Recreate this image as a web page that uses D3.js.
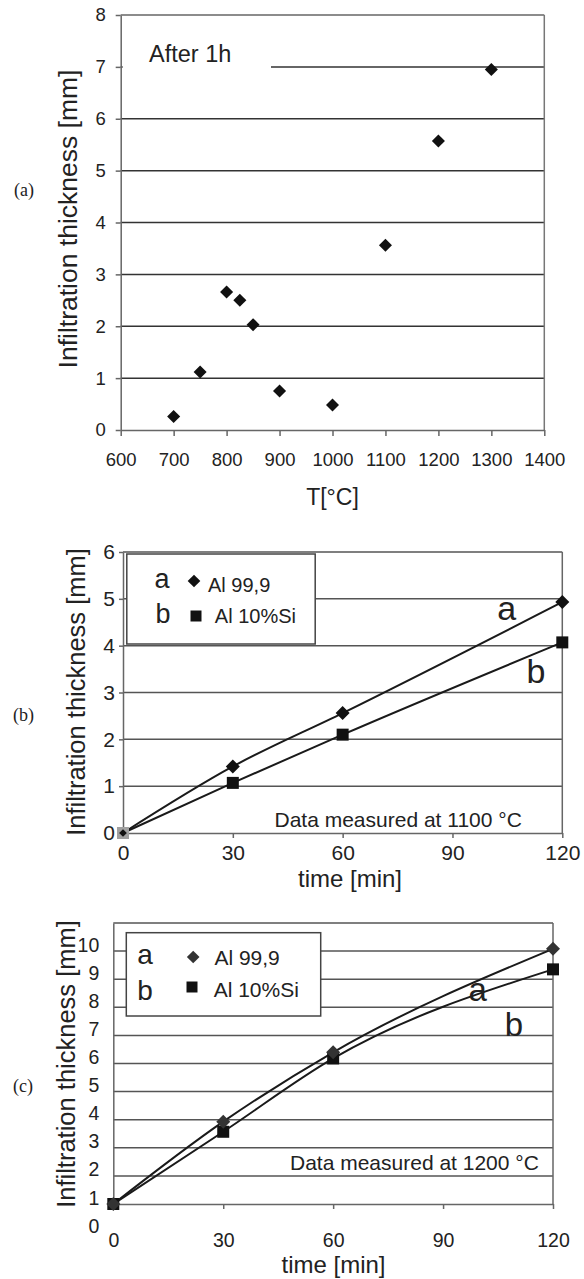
<!DOCTYPE html>
<html><head><meta charset="utf-8">
<script src="https://cdn.jsdelivr.net/npm/d3@7"></script>
<style>body{margin:0;background:#fff} svg{display:block}</style>
</head><body>
<svg id="chart" width="584" height="1279"></svg>
<script>
// ---------- data ----------
// Panel (a): infiltration thickness after 1 h vs temperature
const tempC      = [700, 750, 800, 825, 850, 900, 1000, 1100, 1200, 1300];
const thickAfter1h = [0.26, 1.12, 2.66, 2.5, 2.03, 0.75, 0.48, 3.56, 5.57, 6.95];
const tempTicks  = [600, 700, 800, 900, 1000, 1100, 1200, 1300, 1400];
const thickTicksA = [0, 1, 2, 3, 4, 5, 6, 7, 8];

// Panels (b) and (c): thickness vs time
const timeMin    = [0, 30, 60, 120];
const al999_1100 = [0, 1.42, 2.56, 4.93];
const alSi_1100  = [0, 1.07, 2.1, 4.07];
const al999_1200 = [1, 3.93, 6.4, 10.08];
const alSi_1200  = [1, 3.57, 6.18, 9.35];
const timeTicks  = [0, 30, 60, 90, 120];
const thickTicksB = [0, 1, 2, 3, 4, 5, 6];
const thickTicksC = [0, 1, 2, 3, 4, 5, 6, 7, 8, 9, 10];
const seriesKeys  = ["a", "b"];
const legendNames = ["Al 99,9", "Al 10%Si"];

// ---------- helpers ----------
const svg = d3.select("#chart");
const SANS = "'Liberation Sans', Arial, sans-serif";
const SERIF = "'Liberation Serif', 'Times New Roman', serif";
const diamond = s => d3.symbol(d3.symbolSquare, s)();
const square = s => d3.symbol(d3.symbolSquare, s)();

function styleAxis(g, fs, col) {
  g.select(".domain").attr("stroke", col).attr("stroke-width", 1.5);
  g.selectAll(".tick line").attr("stroke", col).attr("stroke-width", 1.5);
  g.selectAll("text").attr("font-family", SANS).attr("font-size", fs).attr("fill", "#222");
}
function yTitle(x, y, fs) {
  svg.append("text").attr("transform", `translate(${x},${y}) rotate(-90)`)
    .attr("text-anchor", "middle").attr("font-family", SANS).attr("font-size", fs)
    .attr("fill", "#222").text("Infiltration thickness [mm]");
}
function panelLabel(x, y, t) {
  svg.append("text").attr("x", x).attr("y", y).attr("font-family", SERIF)
    .attr("font-size", 18).attr("fill", "#222").text(t);
}

// ---------- panel (a) ----------
{
  const x = d3.scaleLinear([600, 1400], [120.7, 544.3]);
  const y = d3.scaleLinear([0, 8], [430, 15]);
  const g = svg.append("g");
  g.selectAll("line.grid").data(thickTicksA.filter(v => v > 0)).join("line")
    .attr("x1", x(600)).attr("x2", x(1400)).attr("y1", d => y(d)).attr("y2", d => y(d))
    .attr("stroke", d => d === 8 ? "#666" : "#333").attr("stroke-width", 1.5);
  g.append("line").attr("x1", x(1400)).attr("x2", x(1400)).attr("y1", y(0)).attr("y2", y(8))
    .attr("stroke", "#777").attr("stroke-width", 1.5);
  // text box of "After 1h" hiding part of the 7 gridline
  g.append("rect").attr("x", x(600) + 2).attr("y", 30).attr("width", 271 - x(600) - 2).attr("height", 45).attr("fill", "#fff");
  g.append("text").attr("x", 149).attr("y", 62).attr("font-family", SANS).attr("font-size", 23.5)
    .attr("fill", "#222").text("After 1h");
  const ax = g.append("g").attr("transform", `translate(0,${y(0)})`)
    .call(d3.axisBottom(x).tickValues(tempTicks).tickSize(6).tickSizeOuter(0).tickPadding(17).tickFormat(d3.format("d")));
  styleAxis(ax, 18.5, "#666");
  const ay = g.append("g").attr("transform", `translate(${x(600)},0)`)
    .call(d3.axisLeft(y).tickValues(thickTicksA).tickSize(5).tickSizeOuter(0).tickPadding(10).tickFormat(d3.format("d")));
  styleAxis(ay, 18.5, "#666");
  g.selectAll("path.pt").data(tempC).join("path")
    .attr("d", diamond(85))
    .attr("transform", (d, i) => `translate(${x(d)},${y(thickAfter1h[i])}) rotate(45)`)
    .attr("fill", "#111");
  svg.append("text").attr("x", x(1000)).attr("y", 505).attr("text-anchor", "middle")
    .attr("font-family", SANS).attr("font-size", 23).attr("fill", "#222").text("T[°C]");
  yTitle(77, 219, 26.5);
  panelLabel(14, 196, "(a)");
}

// ---------- time panels ----------
function timePanel(o) {
  const x = d3.scaleLinear([0, 120], [o.x0, o.x1]);
  const y = d3.scaleLinear([o.ymin, o.ymax], [o.yb, o.yt]);
  const g = svg.append("g");
  const gridVals = d3.range(o.ymin + 1, o.ymax + 1);
  g.selectAll("line.grid").data(gridVals).join("line")
    .attr("x1", x(0)).attr("x2", x(120)).attr("y1", d => y(d)).attr("y2", d => y(d))
    .attr("stroke", "#555").attr("stroke-width", 1.5);
  g.append("line").attr("x1", x(120)).attr("x2", x(120)).attr("y1", y(o.ymin)).attr("y2", y(o.ymax))
    .attr("stroke", "#666").attr("stroke-width", 1.5);
  // legend box
  g.append("rect").attr("x", o.lg.x).attr("y", o.lg.y).attr("width", o.lg.w).attr("height", o.lg.h)
    .attr("fill", "#fff").attr("stroke", "#444").attr("stroke-width", 1.5);
  const ax = g.append("g").attr("transform", `translate(0,${y(o.ymin)})`)
    .call(d3.axisBottom(x).tickValues(timeTicks).tickSize(5).tickSizeOuter(0).tickPadding(o.xpad).tickFormat(d3.format("d")));
  styleAxis(ax, o.tfs, "#666");
  const ay = g.append("g").attr("transform", `translate(${x(0)},0)`)
    .call(d3.axisLeft(y).tickValues(o.yticks).tickSize(o.ytick).tickSizeOuter(0).tickPadding(o.ypad).tickFormat(d3.format("d")));
  styleAxis(ay, o.tfs, "#666");
  ay.selectAll("text").attr("dy", o.ydy);
  ay.selectAll(".tick line").filter(d => d < o.ymin).remove();

  const line = d3.line().x((d, i) => x(timeMin[i])).y(d => y(d)).curve(d3.curveMonotoneX);
  [o.a, o.b].forEach(s => g.append("path").attr("d", line(s)).attr("fill", "none")
    .attr("stroke", "#1a1a1a").attr("stroke-width", 2));
  g.selectAll("path.sq").data(o.b).join("path").attr("d", square(144))
    .attr("transform", (d, i) => `translate(${x(timeMin[i])},${y(d)})`)
    .attr("fill", (d, i) => (i === 0 && o.grayOrigin) ? "#a0a0a0" : "#111");
  g.selectAll("path.dm").data(o.a).join("path").attr("d", diamond(98))
    .attr("transform", (d, i) => `translate(${x(timeMin[i])},${y(d)}) rotate(45)` + ((i === 0 && o.grayOrigin) ? " scale(0.55)" : ""))
    .attr("fill", o.dcol);
  // series labels on plot
  seriesKeys.forEach((k, i) => g.append("text").attr("x", o.lab[i][0]).attr("y", o.lab[i][1])
    .attr("text-anchor", "middle").attr("font-family", SANS).attr("font-size", o.pfs).attr("fill", "#222").text(k));
  // legend contents
  seriesKeys.forEach((k, i) => {
    const L = o.lgItems[i];
    g.append("text").attr("x", L.kx).attr("y", L.by).attr("text-anchor", "middle")
      .attr("font-family", SANS).attr("font-size", o.lkfs).attr("fill", "#222").text(k);
    g.append("path").attr("d", i === 0 ? diamond(80) : square(121))
      .attr("transform", `translate(${L.mx},${L.my})` + (i === 0 ? " rotate(45)" : ""))
      .attr("fill", i === 0 ? o.dcol : "#111");
    g.append("text").attr("x", L.tx).attr("y", L.ty).attr("font-family", SANS)
      .attr("font-size", o.lfs).attr("fill", "#222").text(legendNames[i]);
  });
  g.append("text").attr("x", o.note[0]).attr("y", o.note[1]).attr("font-family", SANS)
    .attr("font-size", 21).attr("fill", "#222").text(o.noteText);
  svg.append("text").attr("x", o.tt[0]).attr("y", o.tt[1]).attr("text-anchor", "middle")
    .attr("font-family", SANS).attr("font-size", 24).attr("fill", "#222").text("time [min]");
  yTitle(o.yt0[0], o.yt0[1], 25.5);
  panelLabel(13, o.pl, o.plText);
}

timePanel({
  x0: 123, x1: 562.3, ymin: 0, ymax: 6, yb: 833, yt: 552,
  yticks: thickTicksB, ytick: 4, ypad: 4, ydy: "0.32em", xpad: 7, tfs: 21,
  a: al999_1100, b: alSi_1100, dcol: "#111", grayOrigin: true,
  lg: {x: 126.8, y: 554, w: 188.4, h: 90},
  lgItems: [
    {kx: 162, by: 588, mx: 194, my: 581, tx: 208, ty: 591.7},
    {kx: 163, by: 623, mx: 196, my: 616, tx: 214.8, ty: 623}
  ],
  lkfs: 27, lfs: 20, pfs: 34,
  lab: [[506.6, 620], [536, 683]],
  note: [274.5, 826.7], noteText: "Data measured at 1100 °C",
  tt: [350, 887], yt0: [85, 692], pl: 721, plText: "(b)"
});

timePanel({
  x0: 113.3, x1: 553, ymin: 1, ymax: 11, yb: 1204, yt: 923,
  yticks: thickTicksC, ytick: 0, ypad: 14, ydy: "0.0em", xpad: 24, tfs: 19.5,
  a: al999_1200, b: alSi_1200, dcol: "#333", grayOrigin: false,
  lg: {x: 126.3, y: 932.7, w: 194.4, h: 83.3},
  lgItems: [
    {kx: 145, by: 964, mx: 193.2, my: 957, tx: 214.4, ty: 965},
    {kx: 145, by: 1000, mx: 192, my: 987, tx: 213.7, ty: 996.7}
  ],
  lkfs: 28, lfs: 21, pfs: 33,
  lab: [[477.6, 1001], [514, 1036]],
  note: [290, 1170], noteText: "Data measured at 1200 °C",
  tt: [333.5, 1273], yt0: [75, 1064], pl: 1092, plText: "(c)"
});
</script>
</body></html>
